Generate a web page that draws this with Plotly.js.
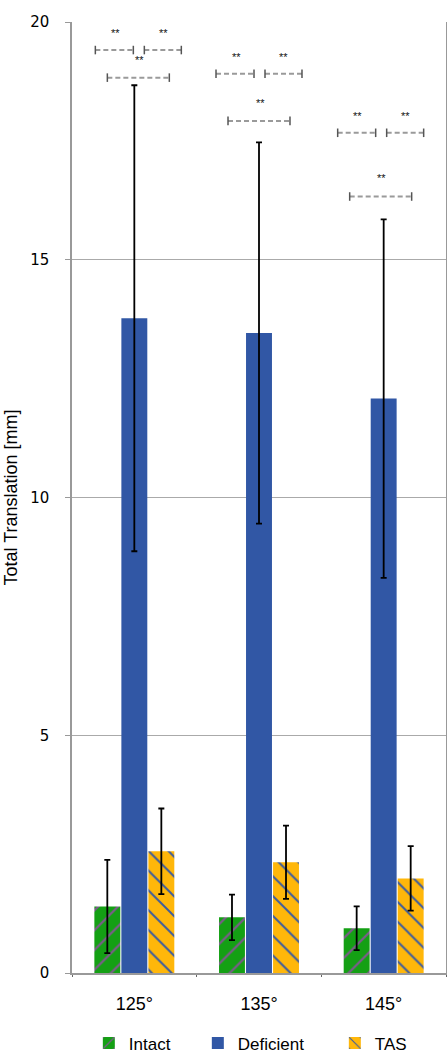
<!DOCTYPE html>
<html>
<head>
<meta charset="utf-8">
<script src="https://cdn.plot.ly/plotly-3.0.1.min.js"></script>
<style>
  html, body { margin: 0; padding: 0; background: #fff; }
  #chart { width: 447px; height: 1062px; }
</style>
</head>
<body>
<div id="chart"></div>
<script>
// angles tested
var categories = ['125°', '135°', '145°'];

// total translation [mm], mean and SD
var intact = [1.40, 1.17, 0.94];
var intactErr = [0.98, 0.48, 0.46];
var deficient = [13.77, 13.46, 12.08];
var deficientErr = [4.90, 4.01, 3.77];
var tas = [2.56, 2.33, 1.99];
var tasErr = [0.90, 0.77, 0.68];

// significance brackets (heights per angle group)
var sigPairTop = [19.41, 18.91, 17.67];
var sigOuter = [18.83, 17.92, 16.33];
var sigLabel = '**';

function barTrace(name, y, err, color, pattern, lw) {
	return {
		type: 'bar', name: name, x: categories, y: y, legendwidth: lw,
		marker: {color: color, pattern: pattern, line: {width: 0}},
		error_y: {type: 'data', array: err, visible: true, color: '#000', thickness: 1.8, width: 3}
	};
}

var data = [
	barTrace('Intact', intact, intactErr, '#14a014',
		{shape: '/', fgcolor: '#7d5a8c', bgcolor: '#14a014', size: 14, solidity: 0.16}, 64),
	barTrace('Deficient', deficient, deficientErr, '#3157a5', {shape: ''}, 92),
	barTrace('TAS', tas, tasErr, '#ffb70a',
		{shape: '\\', fgcolor: '#3d5c9e', bgcolor: '#ffb70a', size: 14, solidity: 0.14}, 40)
];

// bracket geometry in category units relative to group centre
var pxPerCat = 124.7;
var shift = [4, 0, -3];
var capH = 0.09;
var shapes = [];
var annotations = [];

function bracket(x0, x1, y) {
	shapes.push({type: 'line', xref: 'x', yref: 'y', x0: x0, x1: x1, y0: y, y1: y,
		line: {color: '#9a9a9a', width: 2, dash: '5px,3px'}});
	[x0, x1].forEach(function (xx) {
		shapes.push({type: 'line', xref: 'x', yref: 'y', x0: xx, x1: xx, y0: y - capH, y1: y + capH,
			line: {color: '#555', width: 1.5}});
	});
}

function stars(x, y) {
	annotations.push({xref: 'x', yref: 'y', x: x, y: y, text: sigLabel, showarrow: false,
		font: {family: 'Liberation Sans, Arial, sans-serif', size: 11, color: '#111'}});
}

for (var g = 0; g < categories.length; g++) {
	var c = function (px) { return g + (px + shift[g]) / pxPerCat; };
	bracket(c(-43), c(-5), sigPairTop[g]);
	bracket(c(6), c(43), sigPairTop[g]);
	bracket(c(-31), c(31), sigOuter[g]);
	stars(c(-23), sigPairTop[g] + 0.36);
	stars(c(25), sigPairTop[g] + 0.36);
	stars(c(1), sigOuter[g] + 0.38);
}

var layout = {
	width: 447, height: 1062,
	margin: {l: 72, r: 1, t: 22, b: 86},
	paper_bgcolor: '#fff', plot_bgcolor: '#fff',
	barmode: 'group', bargap: 0.35, bargroupgap: 0.04,
	font: {family: 'Liberation Sans, Arial, sans-serif', color: '#000'},
	showlegend: true,
	legend: {orientation: 'h', x: 0.045, xanchor: 'left', y: -0.074, yanchor: 'middle',
		font: {size: 17}, traceorder: 'normal'},
	xaxis: {
		type: 'category', showline: true, linecolor: '#999', linewidth: 1.5,
		ticks: 'outside', tickson: 'boundaries', ticklen: 2, tickcolor: '#666',
		tickfont: {size: 18}, ticklabelstandoff: 14, showgrid: false
	},
	yaxis: {
		range: [0, 20], dtick: 5, tick0: 0,
		showline: true, mirror: true, linecolor: '#999', linewidth: 1.5,
		ticks: 'outside', ticklen: 5, tickcolor: '#999',
		showgrid: true, gridcolor: '#aaa', gridwidth: 1, zeroline: false,
		tickfont: {family: 'DejaVu Sans, sans-serif', size: 15}, ticklabelstandoff: 13,
		title: {text: 'Total Translation [mm]', font: {size: 18}, standoff: 8}
	},
	shapes: shapes,
	annotations: annotations
};

Plotly.newPlot('chart', data, layout, {displayModeBar: false});
</script>
</body>
</html>
